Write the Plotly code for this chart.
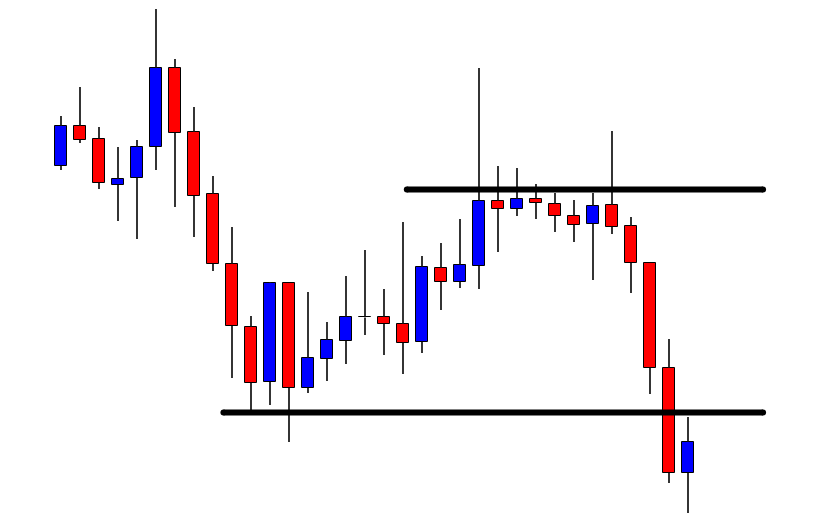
import plotly.graph_objects as go

# Candle data (arbitrary price units)
opens  = [356, 396, 383, 337, 344, 375, 454, 390, 328, 258, 195, 140, 239, 134, 163, 181, 205,
          205, 198, 180, 254, 240, 256, 321, 313, 323, 318, 306, 298, 317, 296, 259, 154, 49]
highs  = [406, 435, 395, 375, 382, 513, 463, 415, 346, 295, 206, 240, 239, 230, 200, 246, 272,
          233, 300, 266, 279, 303, 454, 356, 354, 338, 329, 322, 329, 391, 305, 259, 183, 105]
lows   = [352, 379, 333, 301, 283, 352, 315, 285, 251, 144, 111, 117, 80, 129, 141, 158, 187,
          167, 148, 169, 212, 234, 233, 270, 306, 303, 290, 280, 242, 288, 229, 128, 39, 9]
closes = [396, 382, 339, 343, 375, 454, 389, 326, 258, 196, 139, 239, 134, 164, 182, 205, 205,
          198, 179, 255, 240, 257, 321, 313, 323, 319, 306, 297, 316, 295, 259, 154, 49, 80]

resistance = 332.5
support = 109.5
resistance_span = [18.2, 36.95]   # candle-index extent of the resistance line
support_span = [8.55, 36.95]      # candle-index extent of the support line

UP = "#0000FF"
DOWN = "#FF0000"

n = len(opens)
xs = list(range(n))
bases, heights, colors = [], [], []
wx, wy = [], []
for i in range(n):
    o, h, l, c = opens[i], highs[i], lows[i], closes[i]
    top, bot = max(o, c), min(o, c)
    hgt = top - bot
    if hgt < 0.8:
        hgt = 0.8
        bot = (o + c) / 2 - 0.4
        top = bot + hgt
        colors.append("#000000")
    else:
        colors.append(UP if c > o else DOWN)
    bases.append(bot)
    heights.append(hgt)
    if h > top:
        wx += [i, i, None]
        wy += [top, h, None]
    if l < bot:
        wx += [i, i, None]
        wy += [l, bot, None]

fig = go.Figure()
fig.add_trace(go.Scatter(x=wx, y=wy, mode="lines", line=dict(color="#111111", width=1.7),
                         hoverinfo="skip", showlegend=False))
fig.add_trace(go.Bar(x=xs, y=heights, base=bases, width=0.62,
                     marker=dict(color=colors, line=dict(color="#000000", width=1)),
                     showlegend=False))
for span, lvl in ((resistance_span, resistance), (support_span, support)):
    fig.add_trace(go.Scatter(x=span, y=[lvl, lvl], mode="lines+markers",
                             line=dict(color="#000000", width=6),
                             marker=dict(color="#000000", size=6),
                             showlegend=False))

fig.update_layout(
    width=822, height=522,
    margin=dict(l=0, r=0, t=0, b=0),
    paper_bgcolor="white", plot_bgcolor="white",
    xaxis=dict(range=[-61/19, (822-61)/19], visible=False, showgrid=False, zeroline=False),
    yaxis=dict(range=[0, 522], visible=False, showgrid=False, zeroline=False),
    bargap=0,
)

fig.write_html("out.html", config={"displayModeBar": False},
               post_script="document.body.style.margin='0';document.body.style.overflow='hidden';")
